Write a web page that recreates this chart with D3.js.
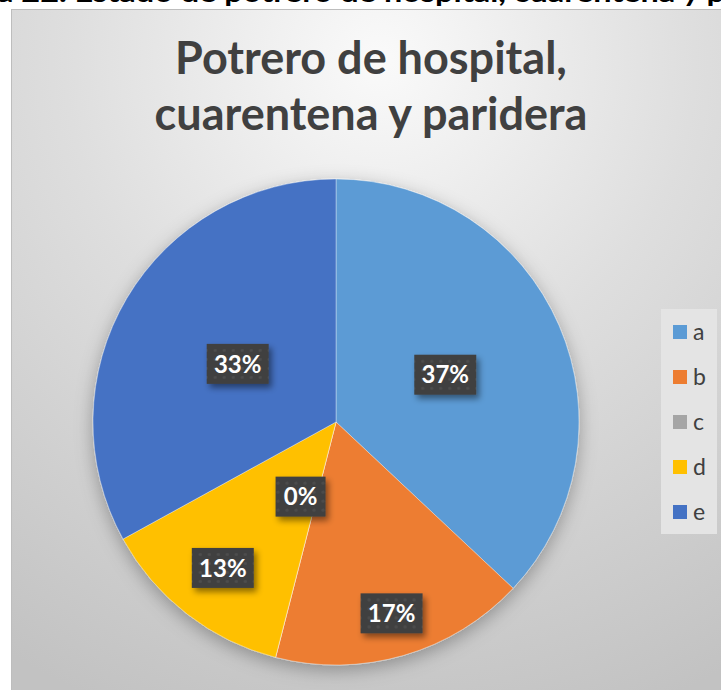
<!DOCTYPE html>
<html lang="es">
<head>
  <meta charset="utf-8">
  <title>Potrero de hospital, cuarentena y paridera</title>
  <script src="https://d3js.org/d3.v7.min.js"></script>
  <style>
    body { margin: 0; background: #fff; }
    svg { display: block; }
  </style>
</head>
<body>
  <script>
    // datos (porcentajes)
    var categories = ['a', 'b', 'c', 'd', 'e'];
    var percents = [37, 17, 0, 13, 33];
    var colors = ['#5B9BD5', '#ED7D31', '#A5A5A5', '#FFC000', '#4472C4'];
    var headline = 'a 22. Estado  de potrero de hospital, cuarentena y p';
    var titleLines = ['Potrero de hospital,', 'cuarentena y paridera'];

    // posicion de las etiquetas (fraccion del radio, ajuste de angulo en grados)
    var labelRadius = [0.49, 0.82, 0.34, 0.76, 0.47];
    var labelShift = [0, 0, 11, 0, 0];

    var w = 721, h = 690;
    var cx = 336, cy = 422, r = 243;

    var svg = d3.select('body').append('svg')
      .attr('width', w)
      .attr('height', h);

    var defs = svg.append('defs');
    var bg = defs.append('radialGradient').attr('id', 'bg')
      .attr('gradientUnits', 'userSpaceOnUse')
      .attr('cx', 380).attr('cy', 60).attr('r', 700);
    bg.append('stop').attr('offset', '0%').attr('stop-color', '#fafafa');
    bg.append('stop').attr('offset', '45%').attr('stop-color', '#dedede');
    bg.append('stop').attr('offset', '100%').attr('stop-color', '#c2c2c2');

    var pieShadow = defs.append('filter').attr('id', 'pieShadow')
      .attr('x', '-20%').attr('y', '-20%').attr('width', '140%').attr('height', '150%');
    pieShadow.append('feDropShadow').attr('dx', 0).attr('dy', 5)
      .attr('stdDeviation', 9).attr('flood-color', '#000').attr('flood-opacity', 0.3);

    var boxShadow = defs.append('filter').attr('id', 'boxShadow')
      .attr('x', '-30%').attr('y', '-30%').attr('width', '160%').attr('height', '170%');
    boxShadow.append('feDropShadow').attr('dx', 3).attr('dy', 4)
      .attr('stdDeviation', 3).attr('flood-color', '#000').attr('flood-opacity', 0.45);

    var dots = defs.append('pattern').attr('id', 'dots')
      .attr('patternUnits', 'userSpaceOnUse').attr('width', 9).attr('height', 9);
    dots.append('rect').attr('width', 9).attr('height', 9).attr('fill', '#404040');
    dots.append('circle').attr('cx', 4.5).attr('cy', 4.5).attr('r', 1.6).attr('fill', '#4d4d4d');

    // encabezado cortado arriba
    svg.append('text')
      .attr('x', -3).attr('y', 2)
      .attr('textLength', 728)
      .attr('lengthAdjust', 'spacingAndGlyphs')
      .style('font-family', 'Lato, "Open Sans", sans-serif')
      .style('font-weight', 'bold')
      .style('font-size', '26px')
      .style('fill', '#000')
      .text(headline);

    // area del grafico
    svg.append('rect')
      .attr('x', 11.5).attr('y', 9.5)
      .attr('width', w).attr('height', h)
      .attr('fill', 'url(#bg)')
      .attr('stroke', '#bdbdbd');

    // titulo
    svg.append('g').selectAll('text')
      .data(titleLines)
      .enter().append('text')
      .attr('x', 371)
      .attr('y', function (d, i) { return 74 + i * 56; })
      .attr('text-anchor', 'middle')
      .style('font-family', 'Lato, "Open Sans", sans-serif')
      .style('font-weight', 'bold')
      .style('font-size', '45px')
      .style('fill', '#404040')
      .text(function (d) { return d; });

    var total = d3.sum(percents);
    var pie = d3.pie().sort(null).value(function (d) { return d; });
    var arcs = pie(percents);
    var arc = d3.arc().innerRadius(0).outerRadius(r);

    var g = svg.append('g').attr('transform', 'translate(' + [cx, cy] + ')');

    g.append('g').attr('filter', 'url(#pieShadow)')
      .selectAll('path')
      .data(arcs)
      .enter().append('path')
      .attr('d', arc)
      .attr('fill', function (d, i) { return colors[i]; })
      .attr('stroke', 'rgba(255,255,255,0.45)')
      .attr('stroke-width', 0.8);

    // etiquetas de porcentaje
    var boxW = 62, boxH = 40;
    var lab = g.selectAll('.lab')
      .data(arcs)
      .enter().append('g')
      .attr('class', 'lab')
      .attr('transform', function (d, i) {
        var a = (d.startAngle + d.endAngle) / 2 + labelShift[i] * Math.PI / 180;
        var rr = r * labelRadius[i];
        return 'translate(' + [Math.sin(a) * rr, -Math.cos(a) * rr] + ')';
      });

    lab.append('rect')
      .attr('x', function (d) { return d.value === 0 ? -25 : -boxW / 2; })
      .attr('y', -boxH / 2)
      .attr('width', function (d) { return d.value === 0 ? 50 : boxW; })
      .attr('height', boxH)
      .attr('fill', 'url(#dots)')
      .attr('filter', 'url(#boxShadow)');

    lab.append('text')
      .attr('text-anchor', 'middle')
      .attr('dy', '0.36em')
      .style('font-family', 'Lato, "Open Sans", sans-serif')
      .style('font-weight', 'bold')
      .style('font-size', '24px')
      .style('fill', '#fff')
      .text(function (d) { return Math.round(d.value / total * 100) + '%'; });

    // leyenda
    var legend = svg.append('g');
    legend.append('rect')
      .attr('x', 661).attr('y', 309)
      .attr('width', 56).attr('height', 225)
      .attr('fill', '#e4e4e4');
    var item = legend.selectAll('.item')
      .data(categories)
      .enter().append('g')
      .attr('class', 'item')
      .attr('transform', function (d, i) { return 'translate(673,' + (332 + i * 45) + ')'; });
    item.append('rect')
      .attr('x', 0).attr('y', -7)
      .attr('width', 14).attr('height', 14)
      .attr('fill', function (d, i) { return colors[i]; });
    item.append('text')
      .attr('x', 20).attr('dy', '0.35em')
      .style('font-family', 'Lato, "Open Sans", sans-serif')
      .style('font-size', '23px')
      .style('fill', '#404040')
      .text(function (d) { return d; });
  </script>
</body>
</html>
